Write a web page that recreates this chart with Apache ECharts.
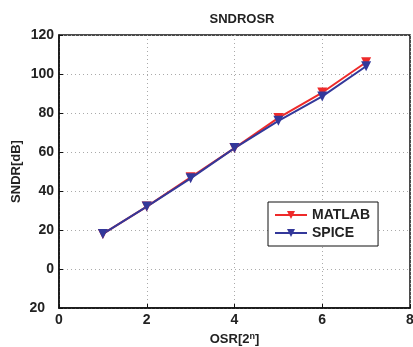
<!DOCTYPE html>
<html>
<head>
<meta charset="utf-8">
<script src="https://cdn.jsdelivr.net/npm/echarts@6/dist/echarts.min.js"></script>
<style>
html, body { margin: 0; padding: 0; background: #fff; }
#chart { width: 413px; height: 347px; }
</style>
</head>
<body>
<div id="chart"></div>
<script>
// OSR exponent n
var osr = [1, 2, 3, 4, 5, 6, 7];
var matlab = [18, 32, 47, 62, 77.5, 90.5, 106];
var spice = [18, 32, 46.5, 62, 76, 88.5, 104];
var yTicks = [-20, 0, 20, 40, 60, 80, 100, 120];

var font = 'Liberation Sans, Arial, sans-serif';

function pairs(xs, ys) {
    return xs.map(function (x, i) { return [x, ys[i]]; });
}

var option = {
    animation: false,
    backgroundColor: '#fff',
    title: {
        text: 'SNDROSR',
        left: 237,
        textAlign: 'center',
        top: 8,
        textStyle: { fontFamily: font, fontSize: 13, fontWeight: 'bold', color: '#222' }
    },
    grid: {
        show: true,
        left: 59,
        right: 3,
        top: 35,
        bottom: 39,
        outerBoundsMode: 'none',
        containLabel: false,
        borderColor: '#111',
        borderWidth: 1.5
    },
    legend: {
        left: 268,
        top: 202,
        orient: 'vertical',
        backgroundColor: '#fff',
        borderColor: '#111',
        borderWidth: 1,
        borderRadius: 0,
        padding: [6, 8, 6, 6],
        itemGap: 4,
        itemWidth: 32,
        itemHeight: 10,
        textStyle: { fontFamily: font, fontSize: 14, fontWeight: 'bold', color: '#222' },
        data: ['MATLAB', 'SPICE']
    },
    xAxis: {
        type: 'value',
        min: 0,
        max: 8,
        interval: 2,
        name: '{a|OSR[2}{s|n}{a|]}',
        nameLocation: 'middle',
        nameGap: 22,
        nameTextStyle: {
            rich: {
                a: { fontFamily: font, fontSize: 13, fontWeight: 'bold', color: '#222' },
                s: { fontFamily: font, fontSize: 9, fontWeight: 'bold', color: '#222', verticalAlign: 'top', padding: [0, 0, 6, 0] }
            }
        },
        axisLine: { show: true, onZero: false, lineStyle: { color: '#111', width: 1.5 } },
        axisTick: { inside: true, length: 4, lineStyle: { color: '#111' } },
        axisLabel: { fontFamily: font, fontSize: 14, fontWeight: 'bold', color: '#222', margin: 5 },
        splitLine: { show: true, lineStyle: { color: '#aaa', type: [1, 3], width: 1 } }
    },
    yAxis: {
        type: 'value',
        min: yTicks[0],
        max: yTicks[yTicks.length - 1],
        interval: 20,
        name: 'SNDR[dB]',
        nameLocation: 'middle',
        nameGap: 36,
        nameMoveOverlap: false,
        nameTextStyle: { fontFamily: font, fontSize: 13, fontWeight: 'bold', color: '#222' },
        axisLine: { show: true, onZero: false, lineStyle: { color: '#111', width: 1.5 } },
        axisTick: { inside: true, length: 4, lineStyle: { color: '#111' } },
        axisLabel: {
            fontFamily: font, fontSize: 14, fontWeight: 'bold', color: '#222', margin: 5,
            // bottom label is drawn without its minus sign, shifted left
            formatter: function (v) {
                return v < 0 ? '{b|' + Math.abs(v) + '}' : String(v);
            },
            rich: {
                b: { fontFamily: font, fontSize: 14, fontWeight: 'bold', color: '#222', padding: [0, 9, 0, 0] }
            }
        },
        splitLine: { show: true, lineStyle: { color: '#aaa', type: [1, 3], width: 1 } }
    },
    series: [{
        name: 'MATLAB',
        type: 'line',
        data: pairs(osr, matlab),
        symbol: 'triangle',
        symbolRotate: 180,
        symbolSize: 10,
        lineStyle: { color: '#ee2a2a', width: 2 },
        itemStyle: { color: '#ee2a2a' }
    }, {
        name: 'SPICE',
        type: 'line',
        data: pairs(osr, spice),
        symbol: 'triangle',
        symbolRotate: 180,
        symbolSize: 10,
        lineStyle: { color: '#33389a', width: 2 },
        itemStyle: { color: '#33389a' }
    }]
};

var chart = echarts.init(document.getElementById('chart'));
chart.setOption(option);
</script>
</body>
</html>
